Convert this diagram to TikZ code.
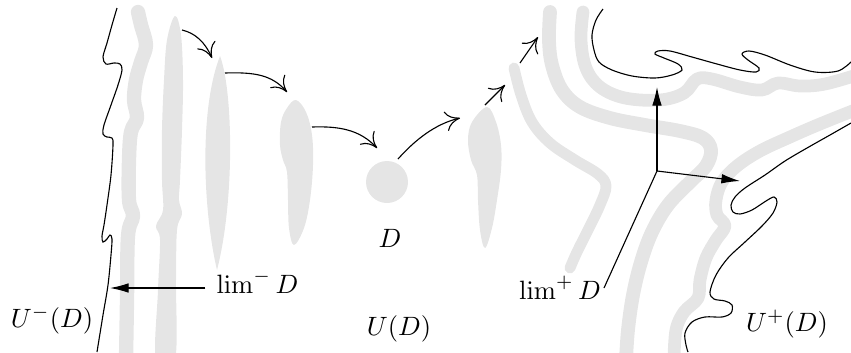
\documentclass[tikz,border=0pt]{standalone}
\usetikzlibrary{arrows.meta}
\definecolor{shade}{gray}{0.9}
\begin{document}
\begin{tikzpicture}[x=0.377pt,y=-0.377pt,
  band/.style={draw=shade, line width=5.2pt, line cap=round, line join=round},
  thinband/.style={band, line width=4.1pt},
  blob/.style={fill=shade, draw=none},
  boundary/.style={line width=0.42pt},
  flow/.style={line width=0.42pt, -{To[length=5.5pt,width=7.5pt]}},
  pointer/.style={line width=0.42pt, -{Latex[length=7pt,width=3.6pt]}},
  lbl/.style={inner sep=0pt, anchor=base}]

\useasboundingbox (0,0) rectangle (851,352);

% ---------- grey shapes, left ----------
\draw[band, line width=5.4pt] plot[smooth, tension=0.6] coordinates {(138,12) (141,25) (146,45) (141,62) (136,80) (134,100) (137,118) (131,132) (129,160) (129,200) (133,216) (128,236) (127,300) (126,360)};
\fill[blob] plot[smooth cycle, tension=0.6] coordinates {(175,16) (181,35) (183,80) (182,130) (180,180) (179,200) (182,214) (177,230) (176,280) (175,360) (156,360) (158,290) (160,240) (156,226) (163,210) (162,180) (162,130) (164,80) (167,40)};
\fill[blob] (220,56) .. controls (233,90) and (235,200) .. (217,270) .. controls (203,210) and (199,110) .. (220,56) -- cycle;
\fill[blob] plot[smooth cycle, tension=0.6] coordinates {(296,100) (306,112) (312,135) (313,165) (310,200) (304,228) (294,245) (289,228) (288,200) (287,172) (283,160) (280,145) (281,122) (287,108)};
\fill[blob] (387,182) circle[radius=21];
\fill[blob] plot[smooth cycle, tension=0.6] coordinates {(487,107) (496,122) (501,145) (501,170) (497,200) (492,228) (485,248) (480,230) (478,200) (477,175) (471,160) (468,140) (472,122)};
\draw[thinband] plot[smooth, tension=0.6] coordinates {(514,68) (521,95) (532,122) (550,143) (575,160) (598,174) (606,186) (600,205) (589,228) (577,252) (570,268)};

% ---------- grey bands, right ----------
\draw[band] plot[smooth, tension=0.6] coordinates {(550,12) (549,40) (552,65) (562,90) (580,107) (610,118) (645,125) (680,131) (703,138) (711,150) (706,166) (690,182) (668,205) (652,232) (641,262) (633,295) (628,330) (626,360)};
\draw[band, line width=4.8pt] plot[smooth, tension=0.6] coordinates {(583,12) (581,40) (586,68) (600,87) (625,98) (660,100) (684,93) (697,79) (712,79) (740,87) (762,90) (778,83) (800,86) (825,84) (860,74)};
\draw[band, line width=4.8pt] plot[smooth, tension=0.6] coordinates {(860,108) (820,124) (790,137) (760,151) (737,166) (722,182) (716,200) (717,215) (725,226) (716,240) (706,258) (700,280) (698,298) (684,312) (676,330) (674,360)};

% ---------- black boundaries ----------
\draw[boundary] plot[smooth, tension=0.55] coordinates {(117,8) (112,25) (107,43) (103,57) (106,64) (114,63) (120,64) (122,70) (118,85) (111,105) (104,125) (103,134) (107,137) (112,138) (113,145) (111,175) (107,205) (104,225) (102,236) (103,242) (107,239) (110,235) (112,239) (111,255) (108,285) (103,315) (97,352)};
\draw[boundary] plot[smooth, tension=0.55] coordinates {(603,9) (596,20) (592,35) (594,50) (599,62) (612,70) (632,76) (655,78) (672,75) (682,70) (678,64) (664,58) (655,54) (658,51) (670,51) (692,57) (717,64) (740,70) (756,72) (759,68) (748,60) (742,54) (749,51) (765,55) (790,65) (815,72) (838,71) (851,62)};
\draw[boundary] plot[smooth, tension=0.55] coordinates {(851,123) (830,135) (807,148) (785,161) (765,175) (745,188) (735,197) (731,205) (733,212) (740,214) (752,210) (766,201) (774,197) (777,202) (773,213) (762,226) (745,242) (728,258) (716,275) (710,292) (714,299) (725,301) (732,305) (731,313) (722,317) (705,317) (692,322) (685,333) (686,345) (688,352)};

% ---------- labels ----------
\node[lbl] (um) at (52,327) {$U^-(D)$};
\node[lbl, anchor=base west] (lm) at (216,293) {$\lim^- D$};
\node[lbl] (dl) at (390,247) {$D$};
\node[lbl] (ud) at (399,335) {$U(D)$};
\node[lbl] (lp) at (560,299) {$\lim^+ D$};
\node[lbl] (up) at (787,331) {$U^+(D)$};

% ---------- flow arrows ----------
\coordinate (a1s) at (182,30);  \coordinate (a1e) at (212,58);
\coordinate (a2s) at (225,73);  \coordinate (a2e) at (287,92);
\coordinate (a3s) at (312,127); \coordinate (a3e) at (377,148);
\coordinate (a4s) at (398,159); \coordinate (a4e) at (460,118);
\coordinate (a5s) at (485,105); \coordinate (a5e) at (505,85);
\coordinate (a6s) at (520,63);  \coordinate (a6e) at (538,37);
\draw[flow] (a1s) .. controls (195,33) and (205,42) .. (a1e);
\draw[flow] (a2s) .. controls (255,72) and (272,75) .. (a2e);
\draw[flow] (a3s) .. controls (340,126) and (360,130) .. (a3e);
\draw[flow] (a4s) .. controls (415,140) and (435,124) .. (a4e);
\draw[flow] (a5s) -- (a5e);
\draw[flow] (a6s) -- (a6e);

% ---------- pointers ----------
\coordinate (lmtip) at (110,288);
\path (lm.west |- lmtip) coordinate (lmfrom);
\draw[pointer] ([xshift=-4pt]lmfrom) -- (lmtip);

\coordinate (orig) at (657,171);
\coordinate (uptip) at (657,87);
\coordinate (rttip) at (740,181);
\coordinate (lpend) at (604,288);
\draw[pointer] (orig) -- (uptip);
\draw[pointer] (orig) -- (rttip);
\draw[boundary] (orig) -- (lpend);
\end{tikzpicture}
\end{document}
